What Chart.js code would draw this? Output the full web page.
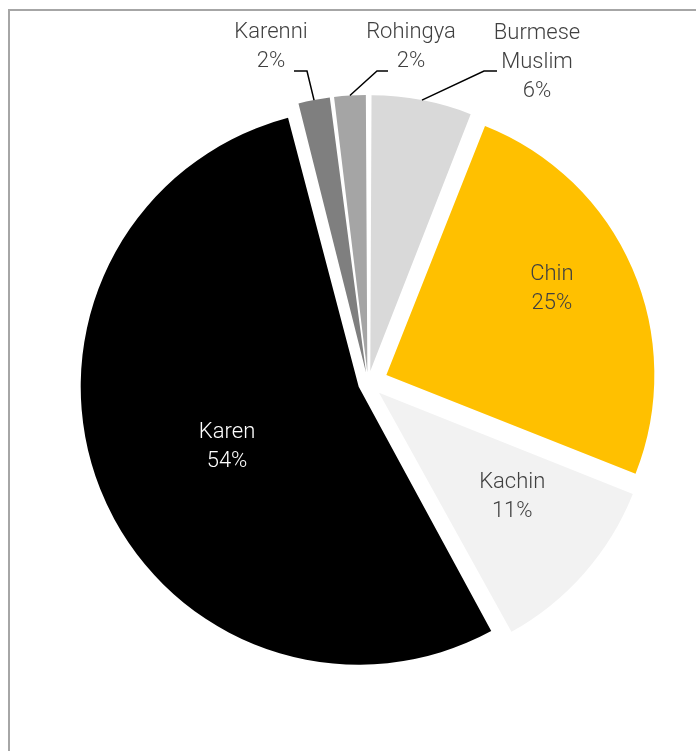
<!DOCTYPE html>
<html>
<head>
<meta charset="utf-8">
<script src="https://cdn.jsdelivr.net/npm/chart.js@4/dist/chart.umd.min.js"></script>
<style>
  html, body { margin: 0; padding: 0; background: #fff; }
  #wrap { position: relative; width: 696px; height: 751px; }
</style>
</head>
<body>
<div id="wrap"><canvas id="pie" width="696" height="751"></canvas></div>
<script>
// Share of each group, clockwise from 12 o'clock
const groups = ["Burmese Muslim", "Chin", "Kachin", "Karen", "Karenni", "Rohingya"];
const shares = [6, 25, 11, 54, 2, 2];
const sliceColors = ["#d9d9d9", "#ffc000", "#f2f2f2", "#000000", "#7f7f7f", "#a5a5a5"];
const textColors = ["#404040", "#404040", "#404040", "#ffffff", "#404040", "#404040"];

// label lines (names split where they wrap)
const labelLines = [["Burmese", "Muslim"], ["Chin"], ["Kachin"], ["Karen"], ["Karenni"], ["Rohingya"]];

// inside labels: fraction of radius along mid angle (+ small turn); outside labels: text anchor + elbow
const labelPlace = [
  { outside: true, x: 537, y: 31, elbow: [497, 71], elbowEnd: [484, 71] },
  { r: 0.7, turn: -0.082 },
  { r: 0.606, turn: -0.072 },
  { r: 0.5, turn: -0.043 },
  { outside: true, x: 271, y: 30, elbow: [294, 71], elbowEnd: [307, 71] },
  { outside: true, x: 411, y: 30, elbow: [388, 71], elbowEnd: [377, 71] }
];

const EXPLODE = 20;   // px every slice is pulled out
const FONT = '300 22px Roboto, "Open Sans", Lato, sans-serif';
const LINE_H = 29;
const TEXT_DY = 2;

// Chart.js arcs move by offset/4 * (1 + fix); pick offsets so all move EXPLODE px
function arcFix(circ) {
  return 1 - Math.sin(Math.min(Math.PI, circ));
}
const total = shares.reduce((a, b) => a + b, 0);
const sliceOffsets = shares.map(v => 4 * EXPLODE / (1 + arcFix(2 * Math.PI * v / total)));

const frame = {
  id: "frame",
  beforeDraw(chart) {
    const ctx = chart.ctx;
    ctx.save();
    ctx.strokeStyle = "#a6a6a6";
    ctx.lineWidth = 2;
    ctx.beginPath();
    ctx.moveTo(9, 760);
    ctx.lineTo(9, 10);
    ctx.lineTo(710, 10);
    ctx.stroke();
    ctx.restore();
  }
};

const sliceLabels = {
  id: "sliceLabels",
  afterDatasetsDraw(chart) {
    const ctx = chart.ctx;
    const arcs = chart.getDatasetMeta(0).data;
    ctx.save();
    ctx.font = FONT;
    ctx.textAlign = "center";
    ctx.textBaseline = "middle";
    arcs.forEach((arc, i) => {
      const p = arc.getProps(["x", "y", "startAngle", "endAngle", "outerRadius", "circumference"], true);
      const mid = (p.startAngle + p.endAngle) / 2;
      const off = sliceOffsets[i] / 4 * (1 + arcFix(p.circumference));
      const cx = p.x + Math.cos(mid) * off;
      const cy = p.y + Math.sin(mid) * off;
      const lines = labelLines[i].concat([shares[i] + "%"]);
      const place = labelPlace[i];
      let tx, ty;
      if (place.outside) {
        // leader from the slice edge to the label
        const ex = cx + Math.cos(mid) * p.outerRadius;
        const ey = cy + Math.sin(mid) * p.outerRadius;
        ctx.strokeStyle = "#000";
        ctx.lineWidth = 1.5;
        ctx.beginPath();
        ctx.moveTo(place.elbow[0], place.elbow[1]);
        ctx.lineTo(place.elbowEnd[0], place.elbowEnd[1]);
        ctx.lineTo(ex, ey);
        ctx.stroke();
        tx = place.x;
        ty = place.y;
      } else {
        const a = mid + (place.turn || 0);
        tx = cx + Math.cos(a) * p.outerRadius * place.r;
        ty = cy + Math.sin(a) * p.outerRadius * place.r - (lines.length - 1) * LINE_H / 2;
      }
      ctx.fillStyle = textColors[i];
      lines.forEach((t, k) => ctx.fillText(t, tx, ty + TEXT_DY + k * LINE_H));
    });
    ctx.restore();
  }
};

new Chart(document.getElementById("pie"), {
  type: "pie",
  data: {
    labels: groups,
    datasets: [{
      data: shares,
      backgroundColor: sliceColors,
      borderWidth: 0,
      offset: sliceOffsets
    }]
  },
  options: {
    responsive: false,
    animation: false,
    layout: { padding: { left: 60, top: 75, right: 20, bottom: 60 } },
    plugins: {
      legend: { display: false },
      tooltip: { enabled: false }
    }
  },
  plugins: [frame, sliceLabels]
});
</script>
</body>
</html>
